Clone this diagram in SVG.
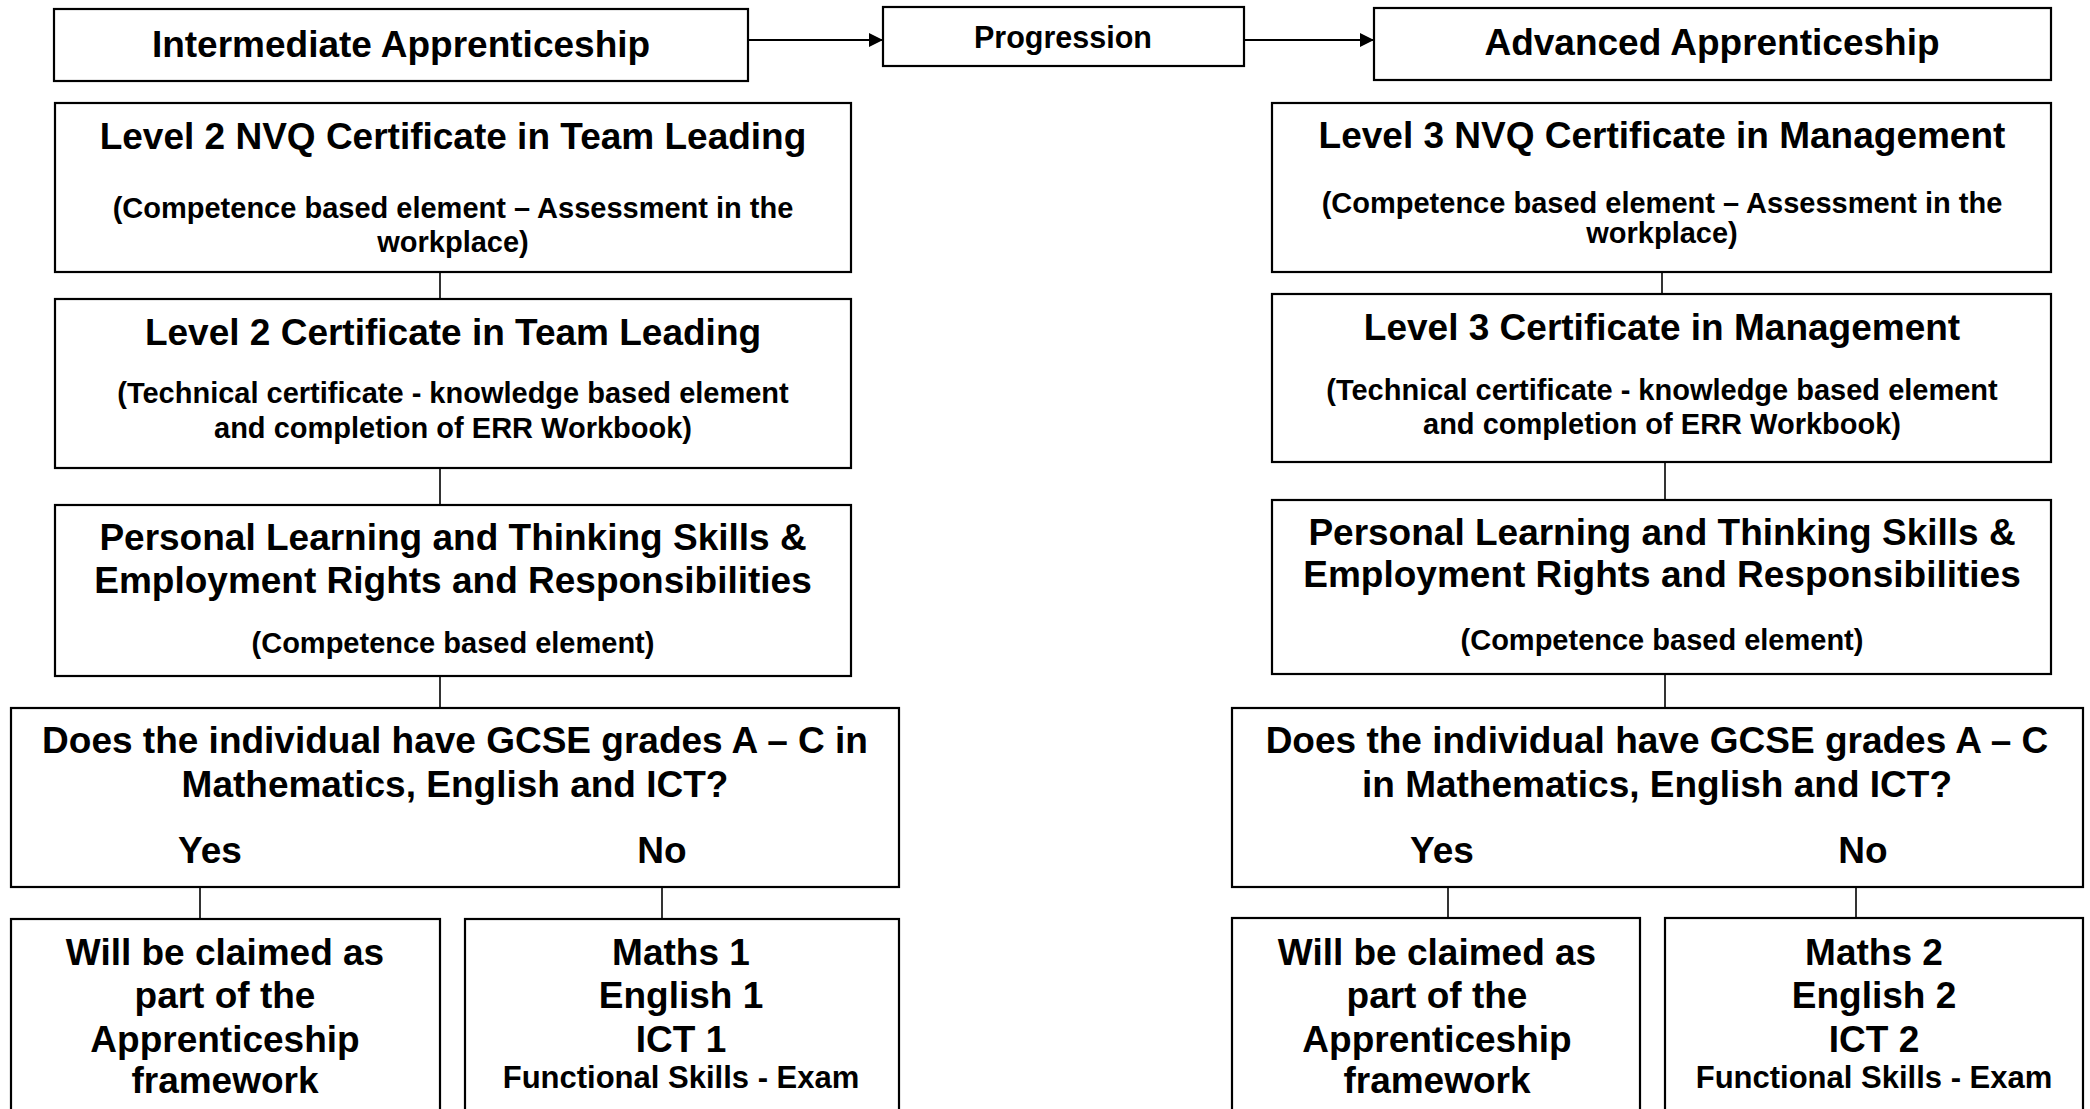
<svg xmlns="http://www.w3.org/2000/svg" width="2090" height="1109" viewBox="0 0 2090 1109">
<defs>
<style>
.box{fill:#fff;stroke:#000;stroke-width:2.2}
.con{stroke:#000;stroke-width:1.6;fill:none}
.arr{stroke:#000;stroke-width:2.2;fill:none}
text{font-family:"Liberation Sans",Arial,sans-serif;font-weight:bold;fill:#000;text-anchor:middle}
.t{font-size:37px}
.s{font-size:29px}
.p{font-size:30.5px}
.f{font-size:31px}
</style>
<marker id="ah" viewBox="0 0 14 14" refX="14" refY="7" markerWidth="14" markerHeight="14" markerUnits="userSpaceOnUse" orient="auto">
<path d="M0,0 L14,7 L0,14 Z" fill="#000"/>
</marker>
</defs>
<rect width="2090" height="1109" fill="#fff"/>

<g id="connectors">
<line class="arr" x1="748" y1="40" x2="883" y2="40" marker-end="url(#ah)"/>
<line class="arr" x1="1244" y1="40" x2="1374" y2="40" marker-end="url(#ah)"/>
<line class="con" x1="440" y1="272" x2="440" y2="299"/>
<line class="con" x1="440" y1="468" x2="440" y2="505"/>
<line class="con" x1="440" y1="676" x2="440" y2="708"/>
<line class="con" x1="200" y1="887" x2="200" y2="919"/>
<line class="con" x1="662" y1="887" x2="662" y2="919"/>
<line class="con" x1="1662" y1="272" x2="1662" y2="294"/>
<line class="con" x1="1665" y1="462" x2="1665" y2="500"/>
<line class="con" x1="1665" y1="674" x2="1665" y2="708"/>
<line class="con" x1="1448" y1="887" x2="1448" y2="918"/>
<line class="con" x1="1856" y1="887" x2="1856" y2="918"/>
</g>

<g id="intermediate">
<rect class="box" x="54" y="9" width="694" height="72"/>
<text class="t" x="401" y="57">Intermediate Apprenticeship</text>
</g>
<g id="progression">
<rect class="box" x="883" y="7" width="361" height="59"/>
<text class="p" x="1063" y="48">Progression</text>
</g>
<g id="advanced">
<rect class="box" x="1374" y="8" width="677" height="72"/>
<text class="t" x="1712" y="55">Advanced Apprenticeship</text>
</g>

<g id="l2nvq">
<rect class="box" x="55" y="103" width="796" height="169"/>
<text class="t" x="453" y="149">Level 2 NVQ Certificate in Team Leading</text>
<text class="s" x="453" y="218">(Competence based element – Assessment in the</text>
<text class="s" x="453" y="252">workplace)</text>
</g>
<g id="l2cert">
<rect class="box" x="55" y="299" width="796" height="169"/>
<text class="t" x="453" y="345">Level 2 Certificate in Team Leading</text>
<text class="s" x="453" y="403">(Technical certificate - knowledge based element</text>
<text class="s" x="453" y="438">and completion of  ERR Workbook)</text>
</g>
<g id="l2plts">
<rect class="box" x="55" y="505" width="796" height="171"/>
<text class="t" x="453" y="550">Personal Learning and Thinking Skills &amp;</text>
<text class="t" x="453" y="593">Employment Rights and Responsibilities</text>
<text class="s" x="453" y="653">(Competence based element)</text>
</g>
<g id="l2gcse">
<rect class="box" x="11" y="708" width="888" height="179"/>
<text class="t" x="455" y="753">Does the individual have GCSE grades A – C in</text>
<text class="t" x="455" y="797">Mathematics, English and ICT?</text>
<text class="t" x="210" y="863">Yes</text>
<text class="t" x="662" y="863">No</text>
</g>
<g id="l2yes">
<rect class="box" x="11" y="919" width="429" height="200"/>
<text class="t" x="225" y="965">Will be claimed as</text>
<text class="t" x="225" y="1008">part of the</text>
<text class="t" x="225" y="1052">Apprenticeship</text>
<text class="t" x="225" y="1093">framework</text>
</g>
<g id="l2no">
<rect class="box" x="465" y="919" width="434" height="200"/>
<text class="t" x="681" y="965">Maths 1</text>
<text class="t" x="681" y="1008">English 1</text>
<text class="t" x="681" y="1052">ICT 1</text>
<text class="f" x="681" y="1088">Functional Skills - Exam</text>
</g>

<g id="l3nvq">
<rect class="box" x="1272" y="103" width="779" height="169"/>
<text class="t" x="1662" y="148">Level 3 NVQ Certificate in Management</text>
<text class="s" x="1662" y="213">(Competence based element – Assessment in the</text>
<text class="s" x="1662" y="243">workplace)</text>
</g>
<g id="l3cert">
<rect class="box" x="1272" y="294" width="779" height="168"/>
<text class="t" x="1662" y="340">Level 3 Certificate in Management</text>
<text class="s" x="1662" y="400">(Technical certificate - knowledge based element</text>
<text class="s" x="1662" y="434">and completion of ERR Workbook)</text>
</g>
<g id="l3plts">
<rect class="box" x="1272" y="500" width="779" height="174"/>
<text class="t" x="1662" y="545">Personal Learning and Thinking Skills &amp;</text>
<text class="t" x="1662" y="587">Employment Rights and Responsibilities</text>
<text class="s" x="1662" y="650">(Competence based element)</text>
</g>
<g id="l3gcse">
<rect class="box" x="1232" y="708" width="851" height="179"/>
<text class="t" x="1657" y="753">Does the individual have GCSE grades A – C</text>
<text class="t" x="1657" y="797">in Mathematics, English and ICT?</text>
<text class="t" x="1442" y="863">Yes</text>
<text class="t" x="1863" y="863">No</text>
</g>
<g id="l3yes">
<rect class="box" x="1232" y="918" width="408" height="200"/>
<text class="t" x="1437" y="965">Will be claimed as</text>
<text class="t" x="1437" y="1008">part of the</text>
<text class="t" x="1437" y="1052">Apprenticeship</text>
<text class="t" x="1437" y="1093">framework</text>
</g>
<g id="l3no">
<rect class="box" x="1665" y="918" width="418" height="200"/>
<text class="t" x="1874" y="965">Maths 2</text>
<text class="t" x="1874" y="1008">English 2</text>
<text class="t" x="1874" y="1052">ICT 2</text>
<text class="f" x="1874" y="1088">Functional Skills - Exam</text>
</g>
</svg>
